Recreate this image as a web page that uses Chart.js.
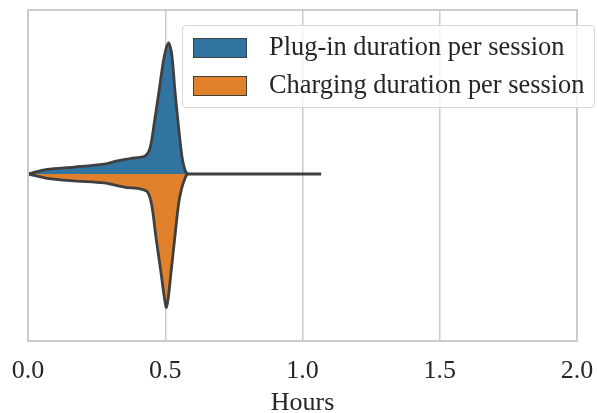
<!DOCTYPE html>
<html>
<head>
<meta charset="utf-8">
<script src="https://cdn.jsdelivr.net/npm/chart.js@4"></script>
<style>
  html, body { margin: 0; padding: 0; background: #fff; }
  #wrap { position: relative; width: 597px; height: 413px; }
  #legend {
    position: absolute; left: 182px; top: 25px; width: 413px; height: 83px;
    box-sizing: border-box; border: 1px solid #d6d6d6; border-radius: 4px;
    background: rgba(255,255,255,0.8);
    font-family: "Liberation Serif", "DejaVu Serif", serif; font-size: 26.4px; color: #262626;
  }
  .item { position: absolute; left: 10px; height: 26px; line-height: 26px; white-space: nowrap; }
  .sw { display: inline-block; width: 54px; height: 20px; box-sizing: border-box;
        border: 1.5px solid #3f3f3f; vertical-align: -3px; margin-right: 22px; }
</style>
</head>
<body>
<div id="wrap">
  <canvas id="violin" width="597" height="413"></canvas>
  <div id="legend"></div>
</div>
<script>
// hours along x, half-width of the violin (density, arbitrary units) along y
const plugHours = [0.0, 0.069, 0.168, 0.277, 0.325, 0.387, 0.427, 0.445, 0.460, 0.478, 0.496, 0.512, 0.524, 0.535, 0.547, 0.561, 0.572, 0.580];
const plugDensity = [0, 0.028, 0.042, 0.060, 0.079, 0.097, 0.110, 0.160, 0.308, 0.508, 0.707, 0.792, 0.720, 0.508, 0.308, 0.103, 0.024, 0];

const chargeHours = [0.0, 0.069, 0.168, 0.277, 0.350, 0.412, 0.436, 0.451, 0.466, 0.484, 0.503, 0.510, 0.522, 0.535, 0.549, 0.560, 0.572, 0.580];
const chargeDensity = [0, 0.026, 0.042, 0.054, 0.079, 0.091, 0.110, 0.190, 0.380, 0.590, 0.804, 0.760, 0.580, 0.381, 0.175, 0.085, 0.025, 0];

const rangeHours = [0.0, 1.068];
const xTicks = [0, 0.5, 1.0, 1.5, 2.0];
const seriesLabels = ['Plug-in duration per session', 'Charging duration per session'];
const seriesColors = ['#3274a1', '#e1812c'];

const edge = '#3f3f3f';
const serif = 'Liberation Serif';

const pts = (xs, ys, sign) => xs.map((x, i) => ({ x: x, y: sign * ys[i] }));

// light grey frame round the plot area
const frame = {
  id: 'frame',
  afterDraw(chart) {
    const a = chart.chartArea, c = chart.ctx;
    c.save();
    c.strokeStyle = '#cccccc';
    c.lineWidth = 2;
    c.strokeRect(a.left, a.top, a.right - a.left, a.bottom - a.top);
    c.restore();
  }
};

new Chart(document.getElementById('violin').getContext('2d'), {
  type: 'line',
  data: {
    datasets: [
      {
        label: seriesLabels[0],
        data: pts(plugHours, plugDensity, 1),
        borderColor: edge, backgroundColor: seriesColors[0],
        borderWidth: 2.8, fill: 'origin', tension: 0.3, pointRadius: 0
      },
      {
        label: seriesLabels[1],
        data: pts(chargeHours, chargeDensity, -1),
        borderColor: edge, backgroundColor: seriesColors[1],
        borderWidth: 2.8, fill: 'origin', tension: 0.3, pointRadius: 0
      },
      {
        label: 'range',
        data: pts(rangeHours, [0, 0], 1),
        borderColor: edge, borderWidth: 2.8, fill: false, pointRadius: 0
      }
    ]
  },
  options: {
    responsive: false,
    animation: false,
    layout: { padding: { left: 28, right: 20, top: 10, bottom: 0 } },
    plugins: { legend: { display: false }, tooltip: { enabled: false } },
    scales: {
      x: {
        type: 'linear', min: 0, max: 2,
        afterBuildTicks: axis => { axis.ticks = xTicks.map(v => ({ value: v })); },
        // keep the plot box where the reference has it
        afterFit: axis => { axis.paddingLeft = 0; axis.paddingRight = 0; axis.height = 72; },
        ticks: {
          color: '#262626', padding: 17,
          font: { family: serif, size: 26, lineHeight: 1.0 },
          callback: v => v.toFixed(1)
        },
        grid: { color: '#cccccc', lineWidth: 1.5, drawTicks: false },
        border: { display: false },
        title: {
          display: true, text: 'Hours', color: '#262626',
          font: { family: serif, size: 26, lineHeight: 1.0 }, padding: { top: 3, bottom: -3 }
        }
      },
      y: { display: false, min: -1.009, max: 0.991 }
    }
  },
  plugins: [frame]
});

// legend as real text in the page
const legend = document.getElementById('legend');
seriesLabels.forEach((lab, i) => {
  const d = document.createElement('div');
  d.className = 'item';
  d.style.top = (7 + i * 37.5) + 'px';
  d.innerHTML = '<span class="sw" style="background:' + seriesColors[i] + '"></span>' + lab;
  legend.appendChild(d);
});
</script>
</body>
</html>
